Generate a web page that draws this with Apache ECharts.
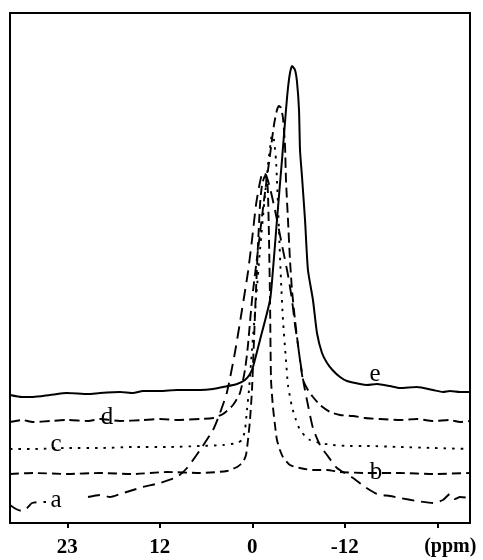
<!DOCTYPE html>
<html>
<head>
<meta charset="utf-8">
<script src="https://cdn.jsdelivr.net/npm/echarts@6/dist/echarts.min.js"></script>
<style>
html,body{margin:0;padding:0;background:#fff;}
#chart{width:483px;height:560px;}
</style>
</head>
<body>
<div id="chart"></div>
<script>
// Chemical shift axis (ppm) tick positions and their printed labels
const tickValues = [24, 12, 0, -12, -24];
const tickLabels = ['23', '12', '0', '-12', '(ppm)'];

// Spectra: [ppm, intensity (arbitrary, offset-stacked)]
const spectrumA = [
  [31.43,18],[30.65,14],[29.87,12],[29.22,15],[28.57,20],[27.54,21],[26.76,21],null,
  [21.31,26],[19.75,28],[18.46,26],[17.16,29],[15.47,33],[14.18,36],[11.97,40],[9.77,46],
  [8.47,55],[6.78,73],[5.10,93],[4.19,110],[3.28,131],[2.24,171],[1.34,213],[0.56,251],
  [0.04,283],[-0.48,318],[-1.00,341],[-1.39,351],[-1.78,348],[-2.30,335],[-2.94,313],
  [-3.85,278],[-4.63,248],[-5.15,223],[-5.54,198],[-5.93,178],[-6.19,163],[-6.71,138],
  [-7.22,118],[-7.87,95],[-8.78,78],[-9.69,68],[-10.99,55],[-13.06,45],[-14.62,36],
  [-16.17,29],[-17.86,27],[-19.16,25],[-21.36,22],[-23.44,20],[-24.73,23],[-25.64,29],
  [-26.29,24],[-26.94,26],[-28.24,25]
];
const spectrumB = [
  [31.43,49],[28.44,50],[24.03,49],[19.75,50],[15.47,49],[11.06,51],[6.78,50],[3.28,52],
  [1.98,56],[1.21,61],[0.82,68],[0.56,83],[0.30,103],[0.04,133],[-0.22,183],[-0.48,233],
  [-0.74,278],[-1.00,318],[-1.26,338],[-1.65,347],[-1.91,343],[-2.04,328],[-2.17,283],
  [-2.30,223],[-2.43,143],[-2.68,116],[-2.94,98],[-3.20,83],[-3.59,73],[-3.98,66],
  [-4.89,58],[-6.19,55],[-7.87,53],[-9.69,53],[-11.38,51],[-14.88,50],[-19.16,50],
  [-23.44,49],[-28.24,50]
];
const spectrumC = [
  [31.43,74],[28.44,74],[24.03,75],[19.75,75],[15.47,76],[11.06,76],[6.78,77],[3.80,78],
  [1.98,80],[1.34,83],[0.95,93],[0.69,113],[0.43,133],[0.04,173],[-0.48,223],[-1.00,273],
  [-1.65,328],[-2.04,358],[-2.30,375],[-2.56,388],[-2.81,383],[-3.07,363],[-3.20,343],
  [-3.46,293],[-3.72,243],[-3.98,203],[-4.37,163],[-4.63,138],[-5.15,116],[-5.67,103],
  [-6.19,93],[-6.84,87],[-7.48,83],[-8.78,80],[-10.47,78],[-12.67,77],[-14.88,77],
  [-19.16,76],[-23.44,75],[-28.24,74]
];
const spectrumD = [
  [31.43,101],[29.87,103],[28.44,101],[26.24,102],[24.03,103],[21.31,102],[19.75,104],
  [17.16,102],[14.18,103],[11.97,104],[9.77,103],[6.78,104],[5.10,105],[3.80,109],
  [2.50,118],[1.60,130],[0.95,153],[0.56,178],[0.04,223],[-0.74,273],[-1.52,323],
  [-2.30,368],[-2.81,398],[-3.20,413],[-3.46,417],[-3.72,415],[-3.98,405],[-4.24,378],
  [-4.37,343],[-4.63,303],[-4.89,263],[-5.15,233],[-5.54,203],[-5.93,178],[-6.19,163],
  [-6.58,143],[-7.22,133],[-7.87,126],[-8.78,118],[-10.08,111],[-11.38,108],[-13.06,107],
  [-14.62,105],[-16.56,104],[-19.16,103],[-21.36,104],[-23.44,102],[-25.64,103],
  [-26.94,101],[-28.24,102]
];
const spectrumE = [
  [31.43,128],[29.87,126],[28.44,126],[26.24,128],[24.03,130],[21.31,129],[19.75,130],
  [17.16,131],[15.47,130],[14.18,132],[11.97,132],[9.77,133],[6.78,133],[5.10,134],
  [3.80,136],[1.98,139],[0.95,143],[0.30,149],[-0.09,156],[-1.00,183],[-2.30,223],
  [-2.68,253],[-3.20,303],[-3.85,363],[-4.37,413],[-4.63,435],[-4.89,450],[-5.15,457],
  [-5.54,453],[-5.80,441],[-6.06,413],[-6.19,373],[-6.45,346],[-6.84,303],[-7.22,253],
  [-7.87,223],[-8.39,190],[-9.04,170],[-9.70,160],[-10.40,153],[-11.38,146],[-12.28,142],
  [-13.97,139],[-14.88,138],[-16.17,139],[-17.86,137],[-19.16,135],[-21.36,136],
  [-23.44,133],[-24.73,131],[-25.64,132],[-26.94,131],[-28.24,131]
];

// Curve labels and where they sit (ppm, intensity)
const curveNames = ['a', 'b', 'c', 'd', 'e'];
const labelAt = [[25.46,23],[-16.04,51],[25.46,79],[18.85,106],[-15.91,149]];

const chart = echarts.init(document.getElementById('chart'), null, {renderer: 'canvas'});
const serif = '"Liberation Serif", "Times New Roman", serif';
const dashes = [[12,7],[9,5],[2.5,6],[10,5],'solid'];
const datasets = [spectrumA, spectrumB, spectrumC, spectrumD, spectrumE];

const series = datasets.map((d, i) => ({
  name: curveNames[i],
  type: 'line',
  data: d,
  showSymbol: false,
  smooth: 0.2,
  connectNulls: false,
  lineStyle: {color: '#000', width: i === 4 ? 2 : 1.9, type: dashes[i]},
  z: 2,
  markPoint: {
    symbol: 'circle',
    symbolSize: 0,
    data: [{
      coord: labelAt[i], value: curveNames[i],
      label: {show: true, position: 'inside', formatter: curveNames[i], fontFamily: serif, fontSize: 25, color: '#000'}
    }],
    label: {
      show: true, position: 'inside', formatter: curveNames[i],
      fontFamily: serif, fontSize: 25, color: '#000'
    }
  }
}));

chart.setOption({
  animation: false,
  backgroundColor: '#fff',
  grid: {left: 10, top: 13, width: 460, height: 510, show: true, borderColor: '#000', borderWidth: 2, backgroundColor: 'transparent'},
  xAxis: {
    type: 'value',
    inverse: true,
    min: -28.24,
    max: 31.43,
    splitLine: {show: false},
    axisLine: {show: true, lineStyle: {color: '#000', width: 2}},
    axisTick: {show: true, inside: false, length: 5, lineStyle: {color: '#000', width: 2}, customValues: tickValues},
    axisLabel: {
      show: true,
      customValues: tickValues,
      margin: 14,
      color: '#000',
      fontFamily: serif,
      fontWeight: 'bold',
      fontSize: 21,
      formatter: function (v) {
        const i = tickValues.indexOf(v);
        if (i < 0) return '';
        return i === tickValues.length - 1 ? '{u|' + tickLabels[i] + '}' : tickLabels[i];
      },
      rich: {
        u: {fontFamily: serif, fontWeight: 'bold', fontSize: 20, color: '#000', padding: [0, 0, 0, 26]}
      }
    }
  },
  yAxis: {
    type: 'value',
    min: 0,
    max: 510,
    show: false,
    splitLine: {show: false}
  },
  series: series
});
</script>
</body>
</html>
